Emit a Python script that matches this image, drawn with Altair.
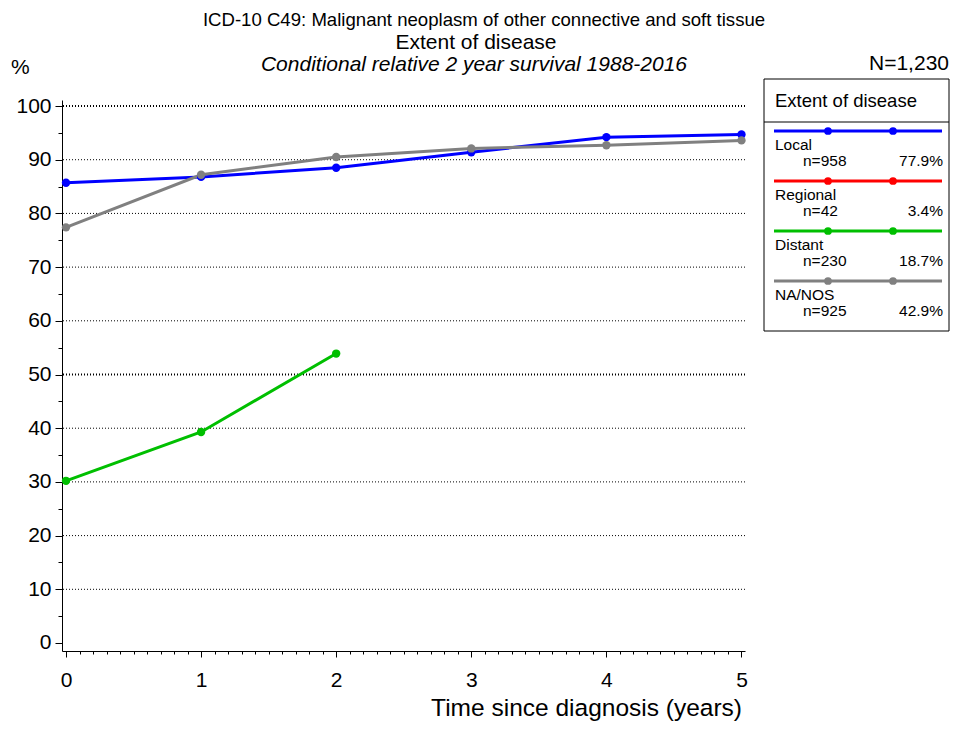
import altair as alt
import pandas as pd

# ---- data ----
years = [0, 1, 2, 3, 4, 5]
local = [85.7, 86.8, 88.5, 91.4, 94.2, 94.7]
regional = []
distant = [30.2, 39.3, 53.9]
na_nos = [77.4, 87.2, 90.5, 92.1, 92.7, 93.6]

series_names = ["Local", "Regional", "Distant", "NA/NOS"]
series_colors = ["#0000FF", "#FF0000", "#00BF00", "#808080"]
series_n = ["n=958", "n=42", "n=230", "n=925"]
series_pct = ["77.9%", "3.4%", "18.7%", "42.9%"]

grid_values = [10, 20, 30, 40, 50, 60, 70, 80, 90, 100]
y_tick_values = list(range(0, 101, 5))
x_tick_values = [round(i * 0.1, 1) for i in range(51)]

title_lines = [
    "ICD-10 C49: Malignant neoplasm of other connective and soft tissue",
    "Extent of disease",
    "Conditional relative 2 year survival 1988-2016",
]
y_unit = "%"
total_label = "N=1,230"
x_title = "Time since diagnosis (years)"
legend_title = "Extent of disease"

FONT = "Liberation Sans"

rows = []
for name, vals in zip(series_names, [local, regional, distant, na_nos]):
    for yr, v in zip(years, vals):
        rows.append({"series": name, "year": yr, "value": v})
df = pd.DataFrame(rows)
grid_df = pd.DataFrame({"g": grid_values})

xscale = alt.Scale(domain=[-0.0296, 5.026], nice=False, zero=False)
yscale = alt.Scale(domain=[-1.49, 101.12], nice=False, zero=False)

is_int = "abs(datum.value - round(datum.value)) < 0.01"

x_axis = alt.Axis(
    values=x_tick_values,
    labelExpr=f"{is_int} ? format(datum.value, 'd') : ''",
    tickSize={"condition": {"test": is_int, "value": 6}, "value": 3},
    grid=False, title=None, domainColor="black", tickColor="black",
    domainWidth=1, tickWidth=1,
    labelFont=FONT, labelFontSize=21, labelColor="black",
    labelPadding=12, labelOverlap=False, labelFlush=False, labelBound=False,
)
y_axis = alt.Axis(
    values=y_tick_values,
    labelExpr="datum.value % 10 == 0 ? format(datum.value, 'd') : ''",
    tickSize={"condition": {"test": "datum.value % 10 == 0", "value": 7}, "value": 4},
    grid=False, title=None, domainColor="black", tickColor="black",
    domainWidth=1, tickWidth=1,
    labelFont=FONT, labelFontSize=21, labelColor="black",
    labelPadding=4, labelOverlap=False, labelFlush=False, labelBound=False,
)

grid = alt.Chart(grid_df).mark_rule(color="black", strokeDash=[1, 2]).encode(
    y=alt.Y("g:Q", scale=yscale, axis=y_axis),
    strokeWidth=alt.condition("datum.g % 50 == 0", alt.value(2), alt.value(1)),
)

lines = alt.Chart(df).mark_line(
    strokeWidth=3, point=alt.OverlayMarkDef(size=70, filled=True, opacity=1)
).encode(
    x=alt.X("year:Q", scale=xscale, axis=x_axis),
    y=alt.Y("value:Q", scale=yscale, axis=y_axis),
    color=alt.Color("series:N", scale=alt.Scale(domain=series_names, range=series_colors), legend=None),
)

one = alt.Data(values=[{}])


def text(t, x, y, size, align="left", baseline="middle", style="normal"):
    return alt.Chart(one).mark_text(
        text=t, font=FONT, fontSize=size, align=align, baseline=baseline,
        fontStyle=style, color="black",
    ).encode(x=alt.value(x), y=alt.value(y))


layers = [grid, lines]
layers.append(text(title_lines[0], 422, -80, 18.6, align="center"))
layers.append(text(title_lines[1], 414, -57, 21, align="center"))
layers.append(text(title_lines[2], 412, -35, 21, align="center", style="italic"))
layers.append(text(y_unit, -51, -32, 21))
layers.append(text(total_label, 887, -36, 21, align="right"))
layers.append(text(x_title, 680, 616, 24.5, align="right", baseline="alphabetic"))

# legend box
BX0, BX1, BY0, BY1 = 702, 887, -21, 231
layers.append(
    alt.Chart(one).mark_rect(fill="white", stroke="black", strokeWidth=1).encode(
        x=alt.value(BX0), x2=alt.value(BX1), y=alt.value(BY0), y2=alt.value(BY1)
    )
)
layers.append(
    alt.Chart(one).mark_rule(color="black", strokeWidth=1).encode(
        x=alt.value(BX0), x2=alt.value(BX1), y=alt.value(22)
    )
)
layers.append(text(legend_title, 713, 1, 18.5))
for i, (name, col, n, pct) in enumerate(zip(series_names, series_colors, series_n, series_pct)):
    ly = 31 + 50 * i
    layers.append(
        alt.Chart(one).mark_rule(color=col, strokeWidth=3).encode(
            x=alt.value(712), x2=alt.value(880), y=alt.value(ly)
        )
    )
    for dx in (766, 831):
        layers.append(
            alt.Chart(one).mark_point(filled=True, size=60, color=col, opacity=1).encode(
                x=alt.value(dx), y=alt.value(ly)
            )
        )
    layers.append(text(name, 713, ly + 19, 15.5, baseline="alphabetic"))
    layers.append(text(n, 741, ly + 35, 15.5, baseline="alphabetic"))
    layers.append(text(pct, 881, ly + 35, 15.5, align="right", baseline="alphabetic"))

chart = alt.layer(*layers).properties(
    width=683,
    height=551,
    autosize=alt.AutoSizeParams(type="none"),
    padding={"left": 54, "top": 92, "right": 205, "bottom": 70},
    background="white",
).configure_view(stroke=None)

chart.save("out.html", embed_options={"renderer": "svg", "actions": False})
